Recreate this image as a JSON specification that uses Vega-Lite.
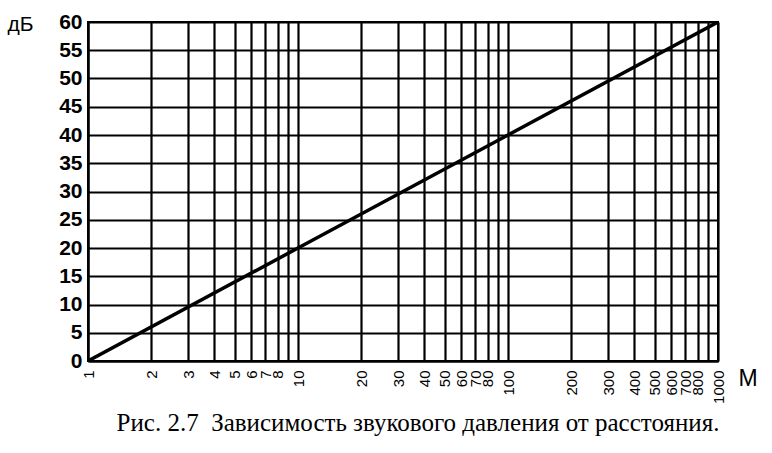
{
  "$schema": "https://vega.github.io/schema/vega-lite/v6.json",
  "autosize": {"type": "none"},
  "width": 630,
  "height": 339,
  "padding": {"left": 88, "top": 22, "right": 54, "bottom": 92},
  "background": "white",
  "config": {
    "view": {"stroke": "black", "strokeWidth": 2},
    "font": "Liberation Sans"
  },
  "title": {
    "text": "Рис. 2.7 \u00a0Зависимость звукового давления от расстояния.",
    "orient": "bottom",
    "anchor": "middle",
    "baseline": "alphabetic",
    "offset": 28,
    "dx": 15,
    "font": "Liberation Serif",
    "fontSize": 25,
    "fontWeight": "normal",
    "color": "black"
  },
  "data": {
    "values": [
      {"distance": 1, "db": 0},
      {"distance": 10, "db": 20},
      {"distance": 100, "db": 40},
      {"distance": 1000, "db": 60}
    ]
  },
  "mark": {"type": "line", "color": "black", "strokeWidth": 3.5, "clip": true},
  "encoding": {
    "x": {
      "field": "distance",
      "type": "quantitative",
      "scale": {"type": "log", "domain": [1, 1000], "nice": false},
      "axis": {
        "values": [1, 2, 3, 4, 5, 6, 7, 8, 9, 10, 20, 30, 40, 50, 60, 70, 80, 90, 100, 200, 300, 400, 500, 600, 700, 800, 900, 1000],
        "labelExpr": "datum.value == 9 || datum.value == 90 || datum.value == 900 ? '' : datum.label",
        "format": "d",
        "labelAngle": -90,
        "labelOverlap": false,
        "labelFontSize": 15,
        "labelColor": "black",
        "labelPadding": 9,
        "labelFlush": false,
        "ticks": false,
        "domainColor": "black",
        "domainWidth": 2,
        "gridColor": "black",
        "gridWidth": 2.2,
        "gridOpacity": 1,
        "title": "М",
        "titleAngle": 0,
        "titleFontSize": 23,
        "titleFontWeight": "normal",
        "titleColor": "black",
        "titleAlign": "left",
        "titleBaseline": "alphabetic",
        "titleX": 650,
        "titleY": 24
      }
    },
    "y": {
      "field": "db",
      "type": "quantitative",
      "scale": {"domain": [0, 60], "nice": false},
      "axis": {
        "values": [0, 5, 10, 15, 20, 25, 30, 35, 40, 45, 50, 55, 60],
        "labelFontSize": 21,
        "labelFontWeight": "bold",
        "labelColor": "black",
        "labelPadding": 6,
        "ticks": false,
        "domainColor": "black",
        "domainWidth": 2,
        "gridColor": "black",
        "gridWidth": 2.2,
        "gridOpacity": 1,
        "title": "дБ",
        "titleAngle": 0,
        "titleFontSize": 21,
        "titleFontWeight": "normal",
        "titleColor": "black",
        "titleAlign": "left",
        "titleBaseline": "alphabetic",
        "titleX": -81,
        "titleY": 8
      }
    }
  }
}
